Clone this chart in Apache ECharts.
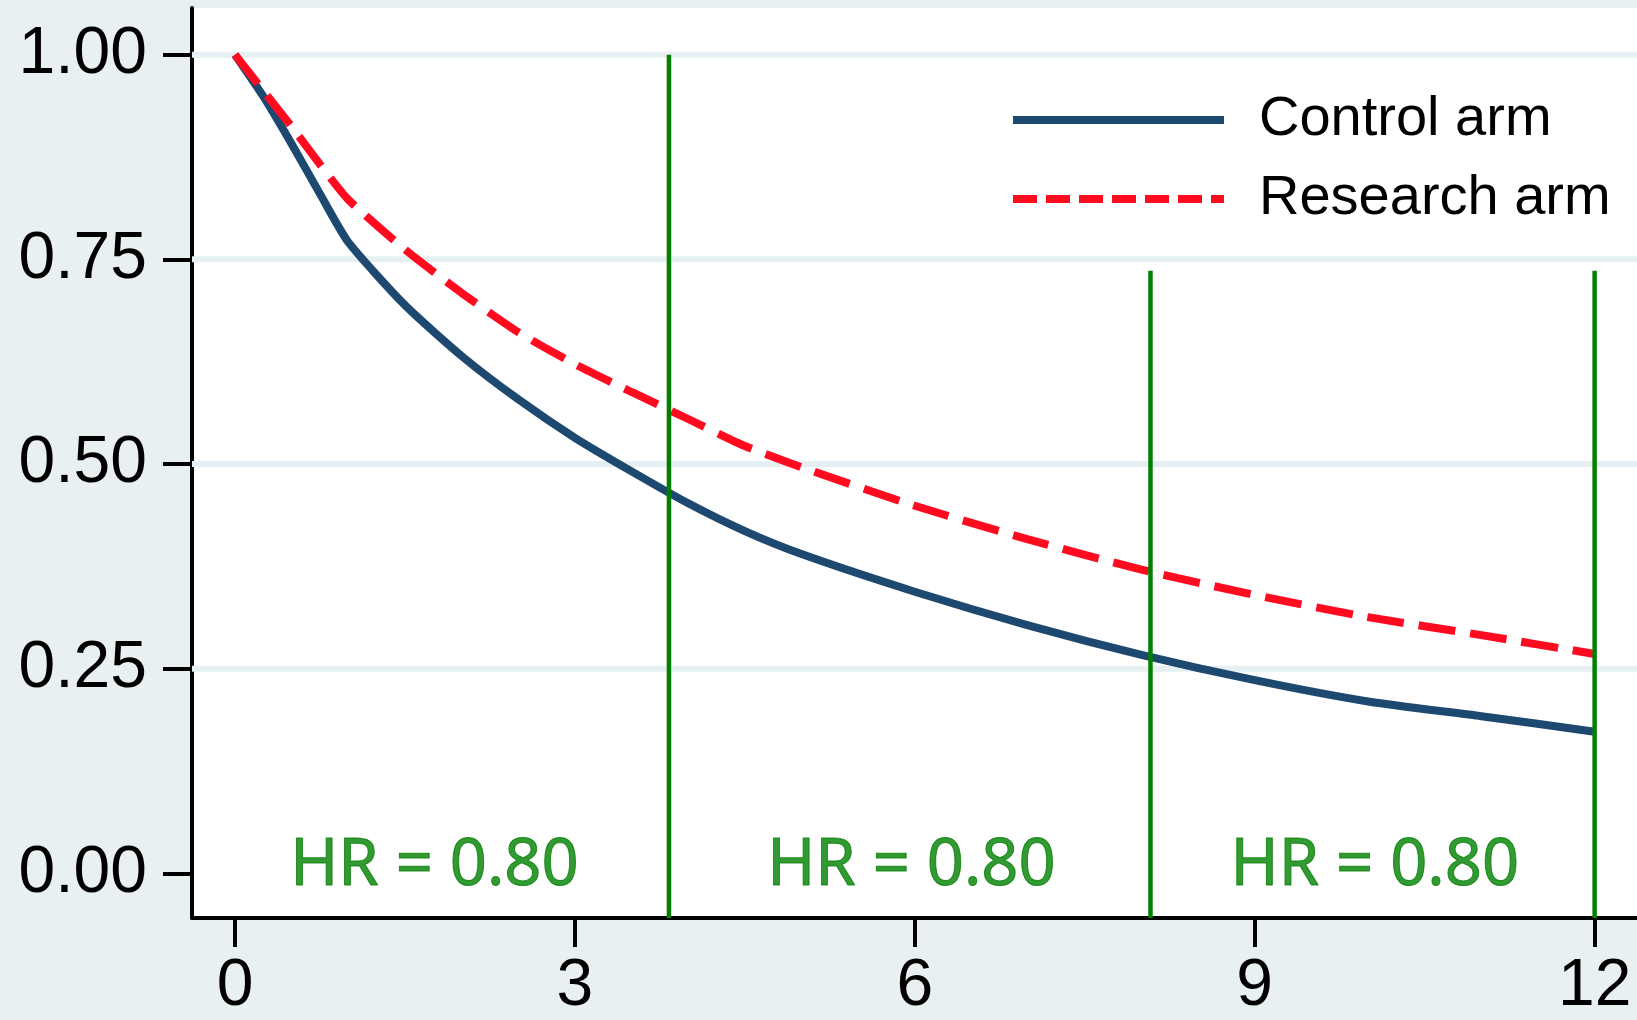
<!DOCTYPE html>
<html>
<head>
<meta charset="utf-8">
<script src="https://cdn.jsdelivr.net/npm/echarts@6/dist/echarts.min.js"></script>
<style>
  html, body { margin: 0; padding: 0; background: #e8f0f2; }
  #chart { width: 1637px; height: 1020px; }
</style>
</head>
<body>
<div id="chart"></div>
<script>
// ---- data ----
const months = [0, 0.25, 0.5, 0.75, 1, 1.5, 2, 2.5, 3, 3.5, 4, 4.5, 5, 6, 7, 8, 9, 10, 11, 12];
const controlArm = [1.000, 0.949, 0.891, 0.830, 0.771, 0.694, 0.632, 0.579, 0.532, 0.491, 0.452, 0.418, 0.390, 0.344, 0.303, 0.267, 0.236, 0.210, 0.192, 0.173];
const researchArm = [1.000, 0.956, 0.912, 0.866, 0.823, 0.762, 0.709, 0.661, 0.622, 0.588, 0.555, 0.522, 0.496, 0.449, 0.408, 0.371, 0.340, 0.313, 0.291, 0.268];
const seriesNames = ['Control arm', 'Research arm'];

const xTicks = [0, 3, 6, 9, 12];
const yTicks = [0, 0.25, 0.5, 0.75, 1];
const yGridLines = [0.25, 0.5, 0.75, 1];

const cutX = [3.83, 8.08, 12];        // green vertical lines (months)
const cutTop = [1.0, 0.736, 0.736];   // upper end of each green line
const hrText = ['HR = 0.80', 'HR = 0.80', 'HR = 0.80'];
const hrX = [1.76, 5.97, 10.06];
const hrY = [0.009, 0.009, 0.009];

// ---- chart ----
const X_MIN = -0.3795, X_MAX = 12.374;
const Y_MIN = -0.0545, Y_MAX = 1.057;

const chart = echarts.init(document.getElementById('chart'), null, { renderer: 'canvas' });

const series = [];
// gridlines (drawn under everything)
yGridLines.forEach(v => {
  series.push({
    type: 'line', z: 1, silent: true, symbol: 'none',
    data: [[X_MIN, v], [X_MAX, v]],
    lineStyle: { color: '#e6eff1', width: 6 }
  });
});
series.push({
  name: seriesNames[0], type: 'line', z: 3,
  data: months.map((m, i) => [m, controlArm[i]]),
  symbol: 'none', showSymbol: false,
  smooth: 0.2,
  lineStyle: { color: '#1d4870', width: 8, join: 'round' },
  itemStyle: { color: '#1d4870' }
});
series.push({
  name: seriesNames[1], type: 'line', z: 3,
  data: months.map((m, i) => [m, researchArm[i]]),
  symbol: 'none', showSymbol: false,
  smooth: 0.2,
  lineStyle: { color: '#ff0a1f', width: 8, type: [37, 15] },
  itemStyle: { color: '#ff0a1f' }
});
cutX.forEach((x, i) => {
  series.push({
    type: 'line', z: 4, silent: true, symbol: 'none',
    data: [[x, Y_MIN], [x, cutTop[i]]],
    lineStyle: { color: '#008000', width: 4.5 }
  });
});
series.push({
  type: 'scatter', z: 5, silent: true,
  symbolSize: 1,
  itemStyle: { color: 'rgba(0,0,0,0)' },
  data: hrX.map((x, i) => ({ value: [x, hrY[i]], label: { formatter: hrText[i] } })),
  label: {
    show: true, position: 'inside',
    color: '#008000', fontSize: 65, fontFamily: 'Noto Sans',
    textBorderColor: '#008000', textBorderWidth: 1
  }
});

chart.setOption({
  animation: false,
  backgroundColor: '#e8f0f2',
  grid: {
    left: 192, top: 8, right: 0, bottom: 95,
    show: true, backgroundColor: '#ffffff', borderWidth: 0
  },
  legend: {
    orient: 'vertical', left: 1004, top: 87,
    itemWidth: 211, itemHeight: 10, itemGap: 23,
    itemStyle: { opacity: 0 },
    lineStyle: { width: 8 },
    textStyle: { fontSize: 56, lineHeight: 56, color: '#000', fontFamily: 'Liberation Sans', padding: [0, 0, 0, 30] },
    data: [
      { name: seriesNames[0], lineStyle: { width: 8, color: '#1d4870', type: 'solid' } },
      { name: seriesNames[1], lineStyle: { width: 8, color: '#ff0a1f', type: [24, 9] } }
    ]
  },
  xAxis: {
    type: 'value', min: X_MIN, max: X_MAX,
    axisLine: { show: true, onZero: false, lineStyle: { color: '#000', width: 4 } },
    axisTick: { show: true, length: 29, lineStyle: { color: '#000', width: 4 }, customValues: xTicks },
    axisLabel: { customValues: xTicks, fontSize: 66, color: '#000', fontFamily: 'Liberation Sans', margin: 36 },
    splitLine: { show: false }
  },
  yAxis: {
    type: 'value', min: Y_MIN, max: Y_MAX,
    axisLine: { show: true, onZero: false, lineStyle: { color: '#000', width: 4 } },
    axisTick: { show: true, length: 29, lineStyle: { color: '#000', width: 4 }, customValues: yTicks },
    axisLabel: { customValues: yTicks, fontSize: 66, color: '#000', fontFamily: 'Liberation Sans', margin: 45,
      formatter: v => v.toFixed(2) },
    splitLine: { show: false }
  },
  series: series
});
</script>
</body>
</html>
